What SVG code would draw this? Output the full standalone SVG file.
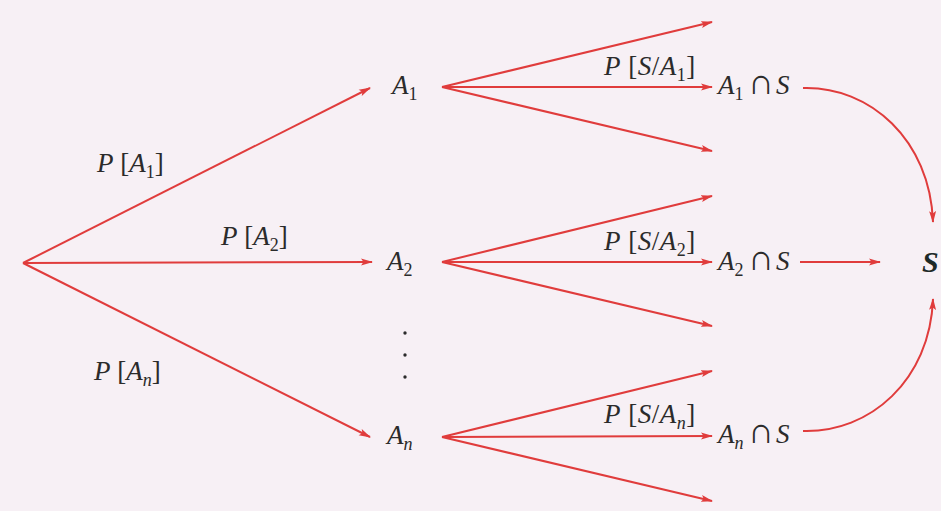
<svg xmlns="http://www.w3.org/2000/svg" width="941" height="511" viewBox="0 0 941 511">
<defs>
<marker id="ah" markerWidth="12" markerHeight="8" refX="11" refY="4" orient="auto" markerUnits="userSpaceOnUse"><path d="M0,0.5 L12,4 L0,7.5 L2.5,4 z" fill="#e03c3c"/></marker>
</defs>
<style>
.e{fill:none;stroke:#e03c3c;stroke-width:2;marker-end:url(#ah)}
text{fill:#2b2b2b;font-family:"Liberation Serif",serif;font-size:27px}
.i{font-style:italic}
.s{font-size:18px}
.cap{font-size:36px}
</style>
<rect width="941" height="511" fill="#f7f0f5"/>
<g id="connectors">
<path class="e" d="M23,263 L370,88"/>
<path class="e" d="M23,263 L372,262"/>
<path class="e" d="M23,263 L370,437"/>
<path class="e" d="M442,87 L712,22"/>
<path class="e" d="M442,87 L712,87"/>
<path class="e" d="M442,87 L712,151"/>
<path class="e" d="M442,262 L712,196"/>
<path class="e" d="M442,262 L712,262"/>
<path class="e" d="M442,262 L712,326"/>
<path class="e" d="M442,437 L712,371"/>
<path class="e" d="M442,437 L712,436"/>
<path class="e" d="M442,437 L712,501"/>
<path class="e" d="M803,88 C870,86 930,140 933,222"/>
<path class="e" d="M800,262 L880,262"/>
<path class="e" d="M803,431 C870,433 930,380 933,299"/>
</g>
<g id="edge-labels">
<text x="97" y="172"><tspan class="i">P</tspan> [<tspan class="i">A</tspan><tspan class="s" dy="6">1</tspan><tspan dy="-6">]</tspan></text>
<text x="221" y="245"><tspan class="i">P</tspan> [<tspan class="i">A</tspan><tspan class="s" dy="6">2</tspan><tspan dy="-6">]</tspan></text>
<text x="94" y="380"><tspan class="i">P</tspan> [<tspan class="i">A</tspan><tspan class="s i" dy="6">n</tspan><tspan dy="-6">]</tspan></text>
<text x="604" y="75" letter-spacing="0.5"><tspan class="i">P</tspan> [<tspan class="i">S</tspan>/<tspan class="i">A</tspan><tspan class="s" dy="6">1</tspan><tspan dy="-6">]</tspan></text>
<text x="604" y="250" letter-spacing="0.5"><tspan class="i">P</tspan> [<tspan class="i">S</tspan>/<tspan class="i">A</tspan><tspan class="s" dy="6">2</tspan><tspan dy="-6">]</tspan></text>
<text x="604" y="423" letter-spacing="0.5"><tspan class="i">P</tspan> [<tspan class="i">S</tspan>/<tspan class="i">A</tspan><tspan class="s i" dy="6">n</tspan><tspan dy="-6">]</tspan></text>
</g>
<g id="node-A1"><text x="392" y="94"><tspan class="i">A</tspan><tspan class="s" dy="6">1</tspan></text></g>
<g id="node-A2"><text x="387" y="270"><tspan class="i">A</tspan><tspan class="s" dy="6">2</tspan></text></g>
<g id="node-dots" fill="#2b2b2b"><circle cx="405" cy="333" r="1.7"/><circle cx="405" cy="355" r="1.7"/><circle cx="405" cy="377" r="1.7"/></g>
<g id="node-An"><text x="387" y="444"><tspan class="i">A</tspan><tspan class="s i" dy="6">n</tspan></text></g>
<g id="node-A1S"><text x="718" y="94"><tspan class="i">A</tspan><tspan class="s" dy="6">1</tspan><tspan class="cap" x="748" dy="-6">∩</tspan><tspan class="i" x="776">S</tspan></text></g>
<g id="node-A2S"><text x="718" y="270"><tspan class="i">A</tspan><tspan class="s" dy="6">2</tspan><tspan class="cap" x="748" dy="-6">∩</tspan><tspan class="i" x="776">S</tspan></text></g>
<g id="node-AnS"><text x="718" y="443"><tspan class="i">A</tspan><tspan class="s i" dy="6">n</tspan><tspan class="cap" x="748" dy="-6">∩</tspan><tspan class="i" x="776">S</tspan></text></g>
<g id="node-S"><text x="922" y="272" style="font-size:30px;font-weight:bold;font-style:italic;fill:#1e2a28">S</text></g>
</svg>
